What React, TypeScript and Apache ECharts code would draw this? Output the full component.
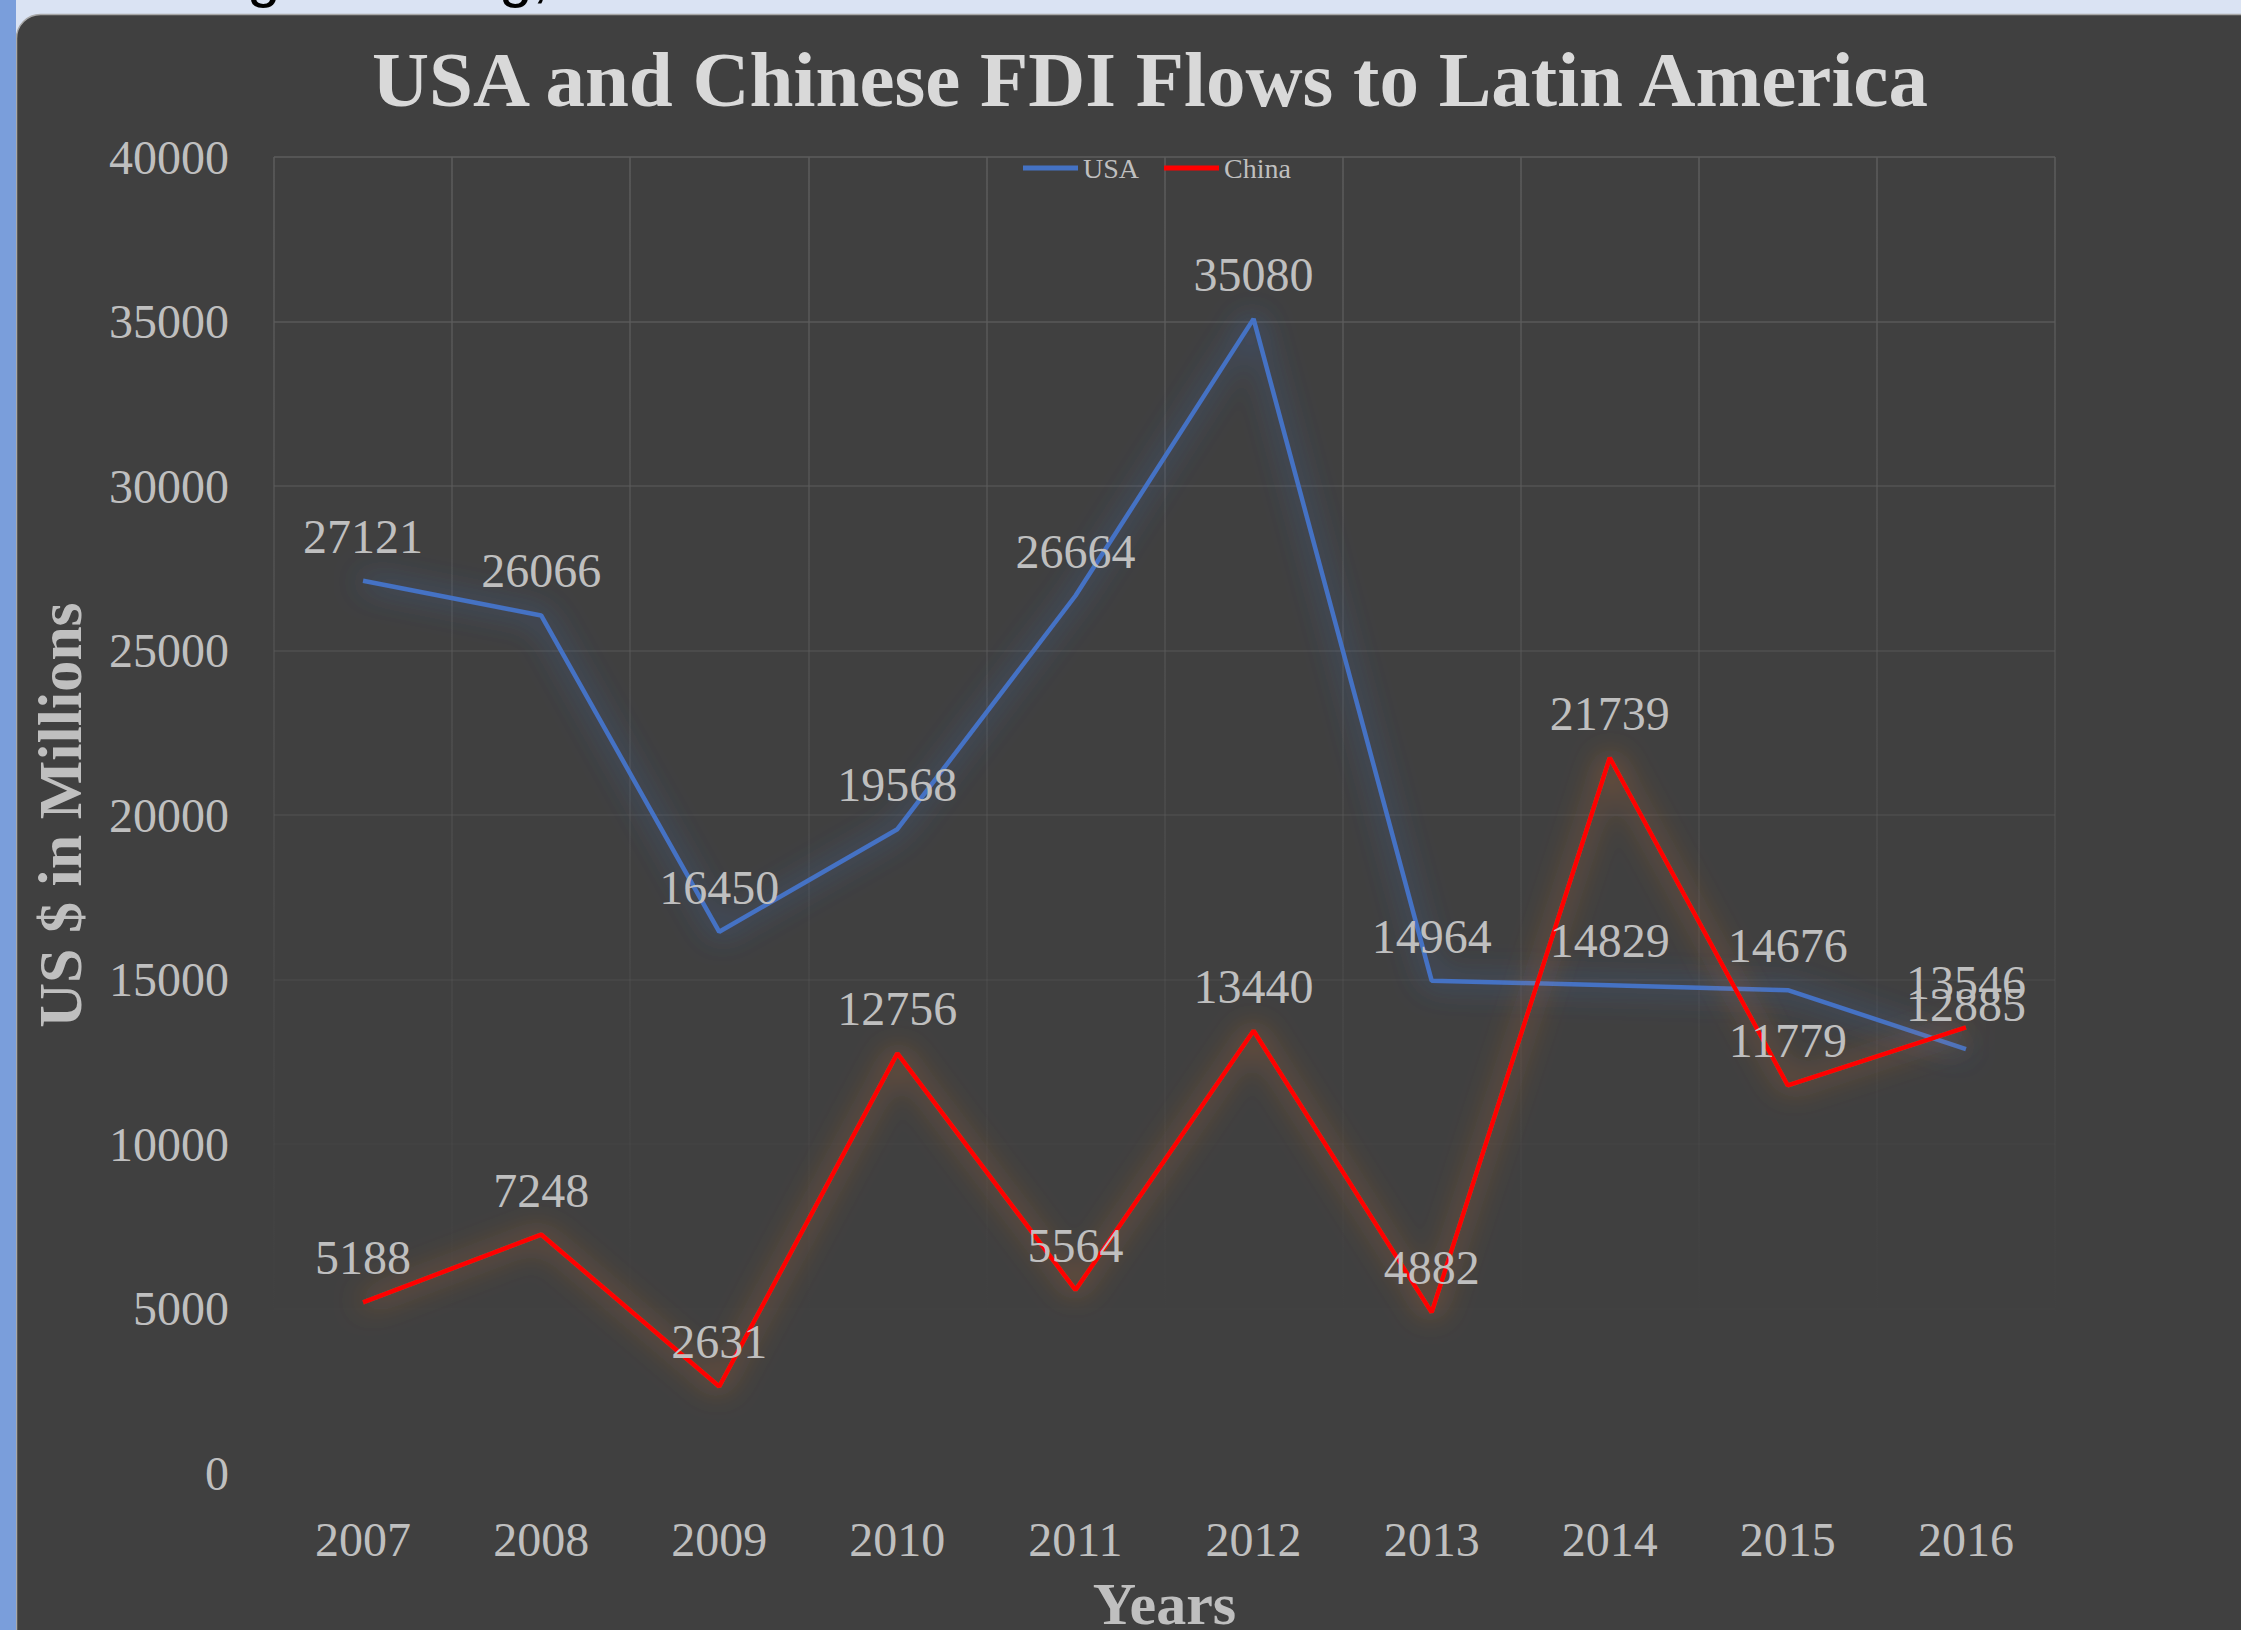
import React, { useEffect, useRef } from "react";
import * as echarts from "echarts";

const years = ["2007", "2008", "2009", "2010", "2011", "2012", "2013", "2014", "2015", "2016"];
const usaValues = [27121, 26066, 16450, 19568, 26664, 35080, 14964, 14829, 14676, 12885];
const chinaValues = [5188, 7248, 2631, 12756, 5564, 13440, 4882, 21739, 11779, 13546];
const seriesNames = ["USA", "China"];
const yMin = 0;
const yMax = 40000;
const yStep = 5000;

const SERIF = "'Liberation Serif', 'DejaVu Serif', serif";
const W = 2241;
const H = 1630;
const GRID = { left: 274, right: 186, top: 157, bottom: 157 };

export default function App() {
  const ref = useRef<HTMLDivElement>(null);

  useEffect(() => {
    if (!ref.current) return;
    const chart = echarts.init(ref.current, undefined, { renderer: "svg" });

    const plotTop = GRID.top;
    const plotBottom = H - GRID.bottom;
    const fadeEnd = 1321;
    const base = "92,92,92";
    const nTicks = Math.round((yMax - yMin) / yStep) + 1;
    const hColors: string[] = [];
    for (let i = 0; i < nTicks; i++) {
      const y = plotBottom - (i / (nTicks - 1)) * (plotBottom - plotTop);
      let a = 1 - (y - plotTop) / (fadeEnd - plotTop);
      if (i === 1) a = 0.08;
      if (a < 0) a = 0;
      hColors.push(`rgba(${base},${a.toFixed(3)})`);
    }
    const vGrad = new echarts.graphic.LinearGradient(
      0, plotTop, 0, fadeEnd,
      [
        { offset: 0, color: `rgba(${base},1)` },
        { offset: 1, color: `rgba(${base},0)` },
      ],
      true
    );

    const labelStyle = {
      show: true,
      position: "top" as const,
      distance: 20,
      color: "#bfbfbf",
      fontSize: 48,
      fontFamily: SERIF,
    };

    chart.setOption({
      animation: false,
      backgroundColor: "#dae3f3",
      title: {
        text: "USA and Chinese FDI Flows to Latin America",
        left: 367,
        top: 35,
        textStyle: {
          color: "#d9d9d9",
          fontSize: 79,
          fontWeight: "bold",
          fontFamily: SERIF,
        },
      },
      legend: {
        left: 1018,
        top: 149,
        icon: "rect",
        itemWidth: 55,
        itemHeight: 5,
        itemGap: 25,
        textStyle: { color: "#bfbfbf", fontSize: 28, fontFamily: SERIF },
        data: [
          { name: seriesNames[0], itemStyle: { color: "#4472C4" } },
          { name: seriesNames[1], itemStyle: { color: "#FF0000" } },
        ],
      },
      graphic: [
        {
          type: "rect",
          z: -10,
          shape: { x: 16.5, y: 14.5, width: W + 20, height: H + 20, r: [24, 0, 0, 0] },
          style: { fill: "#404040", stroke: "#a8a8a8", lineWidth: 1.5 },
        },
        {
          type: "rect",
          z: -9,
          shape: { x: 0, y: 0, width: 16, height: H },
          style: { fill: "#7a9edb" },
        },
        {
          type: "text",
          z: -9,
          x: 247,
          y: -25,
          style: { text: "g", fontSize: 60, fontFamily: "'Liberation Sans', sans-serif", fill: "#000", textVerticalAlign: "middle" },
        },
        {
          type: "text",
          z: -9,
          x: 499,
          y: -25,
          style: { text: "g,", fontSize: 60, fontFamily: "'Liberation Sans', sans-serif", fill: "#000", textVerticalAlign: "middle" },
        },
      ],
      grid: { ...GRID, containLabel: false, outerBoundsMode: "none" },
      xAxis: {
        type: "category",
        data: years,
        boundaryGap: true,
        axisLine: { show: false },
        axisTick: { show: false },
        axisLabel: { color: "#bfbfbf", fontSize: 48, fontFamily: SERIF, margin: 42 },
        splitLine: { show: true, interval: 0, lineStyle: { color: vGrad, width: 1.5 } },
        name: "Years",
        nameLocation: "middle",
        nameGap: 101,
        nameTextStyle: { color: "#bfbfbf", fontSize: 60, fontWeight: "bold", fontFamily: SERIF },
      },
      yAxis: {
        type: "value",
        min: yMin,
        max: yMax,
        interval: yStep,
        axisLine: { show: false },
        axisTick: { show: false },
        axisLabel: {
          color: "#bfbfbf",
          fontSize: 48,
          fontFamily: SERIF,
          margin: 45,
          formatter: (v: number) => String(v),
        },
        splitLine: { show: true, lineStyle: { color: hColors, width: 1.5 } },
        name: "US $ in Millions",
        nameLocation: "middle",
        nameGap: 183,
        nameRotate: 90,
        nameTextStyle: { color: "#bfbfbf", fontSize: 62, fontWeight: "bold", fontFamily: SERIF },
      },
      series: [
        {
          name: seriesNames[0],
          type: "line",
          data: usaValues,
          symbol: "circle",
          symbolSize: 1,
          itemStyle: { color: "rgba(0,0,0,0)" },
          lineStyle: { color: "#4472C4", width: 4.5, shadowBlur: 30, shadowColor: "rgba(68,114,196,0.95)" },
          label: labelStyle,
          emphasis: { disabled: true },
        },
        {
          name: seriesNames[1],
          type: "line",
          data: chinaValues,
          symbol: "circle",
          symbolSize: 1,
          itemStyle: { color: "rgba(0,0,0,0)" },
          lineStyle: { color: "#FF0000", width: 4.5, shadowBlur: 30, shadowColor: "rgba(237,125,49,0.9)" },
          label: labelStyle,
          emphasis: { disabled: true },
        },
      ],
    });

    return () => chart.dispose();
  }, []);

  return (
    <div
      ref={ref}
      style={{ position: "fixed", left: 0, top: 0, width: W, height: H }}
    />
  );
}
